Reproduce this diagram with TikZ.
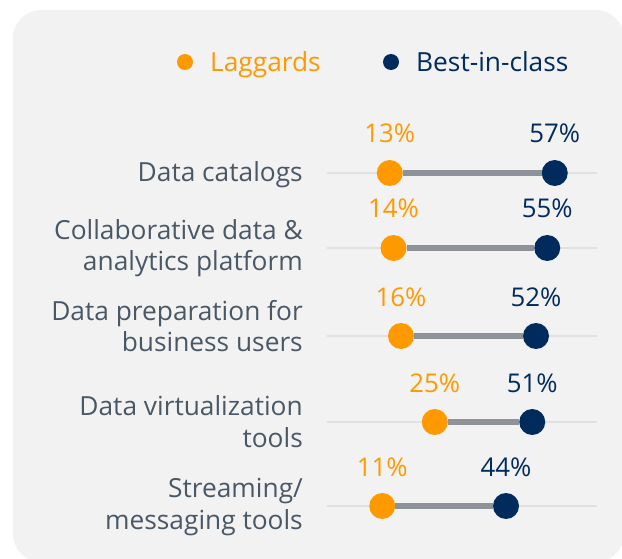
\documentclass[tikz,border=0pt]{standalone}
\usepackage{fontspec}
\setmainfont{Open Sans}
\definecolor{lagorange}{HTML}{FF9900}
\definecolor{bicnavy}{HTML}{002B5C}
\definecolor{catgrey}{HTML}{4A5866}
\definecolor{panelgrey}{HTML}{F2F2F2}
\definecolor{trackgrey}{HTML}{E1E1E1}
\definecolor{spangrey}{HTML}{8D9398}
\begin{document}
\begin{tikzpicture}[x=1pt,y=-1pt,
		dot/.style={circle,inner sep=0pt,minimum size=26pt},
		lagdot/.style={dot,fill=lagorange},
		bicdot/.style={dot,fill=bicnavy},
		txt/.style={inner sep=0pt,font=\fontsize{26.3}{32}\selectfont},
		cat/.style={txt,anchor=base east,align=right,text=catgrey},
		pct/.style={txt,anchor=base,font=\fontsize{25.8}{32}\selectfont}]
	\useasboundingbox (0,0) rectangle (622,559);
	\clip (0,0) rectangle (622,559);
	\fill[panelgrey,rounded corners=28pt] (13,10) rectangle (624,562);
	% Legende
	\node[lagdot,minimum size=16pt] (leglag) at (185,62) {};
	\node[txt,anchor=base west,text=lagorange] (leglagtxt) at (210,72) {Laggards};
	\node[bicdot,minimum size=16pt] (legbic) at (391,62) {};
	\node[txt,anchor=base west,text=bicnavy] (legbictxt) at (416,72) {Best-in-class};
	% Zeilen: Hoehe / Laggards / Best-in-class / Grundlinie letzte Textzeile / Text
	\foreach \y/\lag/\bic/\b/\txt [count=\n] in {
			173/13/57/182/{Data catalogs},
			248/14/55/271/{Collaborative data \&\\analytics platform},
			336/16/52/352/{Data preparation for\\business users},
			422/25/51/447/{Data virtualization\\tools},
			506/11/44/529/{Streaming/\\messaging tools}}{
		\node[cat] (cat\n) at (303,\b) {\txt};
		\coordinate (tl\n) at (327,\y);
		\coordinate (tr\n) at (597,\y);
		\draw[trackgrey,line width=2.5pt] (tl\n) to (tr\n);
		\node[lagdot] (lag\n) at (341+3.75*\lag,\y) {};
		\node[bicdot] (bic\n) at (341+3.75*\bic,\y) {};
		\draw[spangrey,line width=5.5pt] (lag\n) to (bic\n);
		\node[pct,text=lagorange] (lagval\n) at (341+3.75*\lag,\y-30) {\lag\%};
		\node[pct,text=bicnavy] (bicval\n) at (341+3.75*\bic,\y-30) {\bic\%};
	}
\end{tikzpicture}
\end{document}
